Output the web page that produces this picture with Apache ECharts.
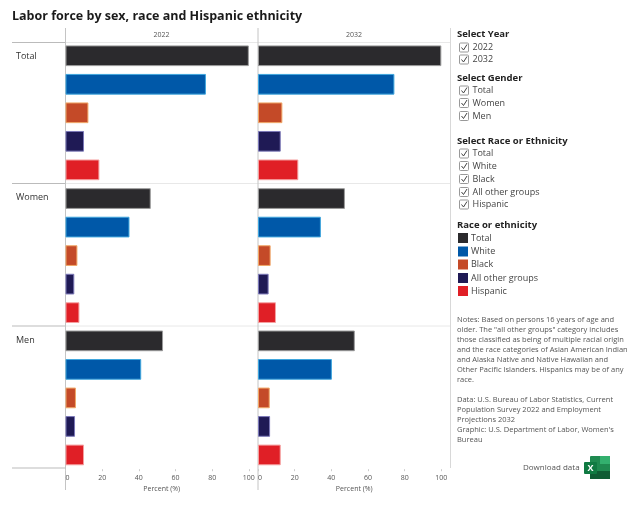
<!DOCTYPE html>
<html>
<head>
<meta charset="utf-8">
<style>html,body{margin:0;padding:0;background:#fff}#chart{width:640px;height:532px}</style>
<script src="https://cdn.jsdelivr.net/npm/echarts@6/dist/echarts.min.js"></script>
</head>
<body>
<div id="chart"></div>
<script>
// Labor force shares by year, sex and race or ethnicity
const years = ['2022', '2032'];
const sexes = ['Total', 'Women', 'Men'];
const groups = ['Total', 'White', 'Black', 'All other groups', 'Hispanic'];
const tickLabels = [0, 20, 40, 60, 80, 100];

const total2022 = [100, 76.6, 12.5, 10.1, 18.5];
const women2022 = [46.5, 34.9, 6.5, 4.8, 7.6];
const men2022 = [53.2, 41.3, 5.7, 5.2, 10.1];
const total2032 = [100, 74.4, 13.3, 12.4, 22];
const women2032 = [47.4, 34.3, 6.9, 5.8, 9.8];
const men2032 = [52.8, 40.3, 6.4, 6.6, 12.4];

const fillColors = ['#2b2a2d', '#0058a8', '#c44a28', '#1f1a55', '#e01f26'];
const edgeColors = ['#9a9a9a', '#3fa6dd', '#f0a868', '#7b78b8', '#f5a0a0'];

const noteLines = [
  'Notes: Based on persons 16 years of age and',
  'older. The "all other groups" category includes',
  'those classified as being of multiple racial origin',
  'and the race categories of Asian American Indian',
  'and Alaska Native and Native Hawaiian and',
  'Other Pacific Islanders. Hispanics may be of any',
  'race.'
];
const sourceLines = [
  'Data: U.S. Bureau of Labor Statistics, Current',
  'Population Survey 2022 and Employment',
  'Projections 2032',
  'Graphic: U.S. Department of Labor, Women\'s',
  'Bureau'
];

const valueTable = [[total2022, women2022, men2022], [total2032, women2032, men2032]];
const uiFont = '"Open Sans", "Noto Sans", sans-serif';
const panelLeft = [65.5, 258];
const panelWidth = 192.5;
const rowTop = [41.5, 184.3, 326.6];
const rowHeight = 142.6;

const grids = [], xAxes = [], yAxes = [], series = [];
years.forEach((year, c) => {
  sexes.forEach((sex, r) => {
    const idx = grids.length;
    const bottomRow = r === sexes.length - 1;
    grids.push({ left: panelLeft[c], top: rowTop[r], width: panelWidth, height: rowHeight });
    xAxes.push({
      type: 'value', gridIndex: idx, min: 0, max: 105,
      name: bottomRow ? 'Percent (%)' : '',
      nameLocation: 'middle', nameGap: 16,
      nameTextStyle: { fontFamily: uiFont, fontSize: 7, color: '#555' },
      axisLine: { show: false },
      splitLine: { show: false },
      axisTick: { show: bottomRow, length: 2, customValues: tickLabels, lineStyle: { color: '#ccc' } },
      axisLabel: { show: bottomRow, customValues: tickLabels, alignMinLabel: 'left', margin: 5, fontFamily: uiFont, fontSize: 7, color: '#555' }
    });
    yAxes.push({
      type: 'category', gridIndex: idx, data: groups, inverse: true,
      axisLine: { show: false }, axisTick: { show: false }, axisLabel: { show: false }
    });
    series.push({
      type: 'bar', name: year + ' ' + sex, xAxisIndex: idx, yAxisIndex: idx,
      barWidth: 20.7, silent: true,
      data: valueTable[c][r].map((v, i) => ({
        value: v,
        itemStyle: { color: fillColors[i], borderColor: edgeColors[i], borderWidth: 1 }
      }))
    });
  });
});

// Frame rules, headers, filter lists, legend and notes
const g = [];
const text = (x, y, s, o = {}) => g.push({
  type: 'text', x, y, silent: true,
  style: Object.assign({ text: s, fontFamily: uiFont, fontSize: 9, fill: '#444', verticalAlign: 'middle' }, o)
});
const rule = (x1, y1, x2, y2, color) => g.push({
  type: 'line', silent: true, shape: { x1, y1, x2, y2 }, style: { stroke: color, lineWidth: 1 }
});
const heading = (y, s) => text(457, y, s, { fontWeight: 'bold', fontSize: 9.5, fill: '#222' });
const checkbox = (y, s) => {
  g.push({ type: 'rect', silent: true, shape: { x: 459.5, y: y - 4.5, width: 9, height: 9, r: 1 }, style: { fill: '#fff', stroke: '#999', lineWidth: 1 } });
  g.push({ type: 'polyline', silent: true, shape: { points: [[461.5, y], [463.5, y + 2.5], [467, y - 3]] }, style: { fill: 'none', stroke: '#444', lineWidth: 1 } });
  text(472.5, y, s);
};

[42.5, 183.5, 326].forEach(y => { rule(12, y, 65, y, '#bbb'); rule(65, y, 450, y, '#e8e8e8'); });
rule(12, 468, 65, 468, '#bbb');
[65.5, 258].forEach(x => rule(x, 28, x, 490, '#c4c4c4'));
rule(450.5, 28, 450.5, 468, '#d8d8d8');

text(12, 16, 'Labor force by sex, race and Hispanic ethnicity', { fontFamily: uiFont, fontWeight: 'bold', fontSize: 12.5, fill: '#1a1a1a' });
years.forEach((y, i) => text(panelLeft[i] + 96, 35, y, { fontSize: 7, fill: '#555', align: 'center' }));
[56, 197, 340].forEach((y, i) => text(16, y, sexes[i], { fontSize: 9, fill: '#333' }));

heading(34, 'Select Year');
[47.5, 59.5].forEach((y, i) => checkbox(y, years[i]));
heading(78, 'Select Gender');
[90.5, 103, 116].forEach((y, i) => checkbox(y, sexes[i]));
heading(141, 'Select Race or Ethnicity');
[153.5, 166, 179, 192, 204.5].forEach((y, i) => checkbox(y, groups[i]));
heading(225, 'Race or ethnicity');
[238, 251.5, 264.5, 278, 291].forEach((y, i) => {
  g.push({ type: 'rect', silent: true, shape: { x: 458, y: y - 5, width: 10, height: 10 }, style: { fill: fillColors[i] } });
  text(471, y, groups[i]);
});

[320, 330, 340, 350, 360, 370, 380].forEach((y, i) => text(457, y, noteLines[i], { fontSize: 7.5, fill: '#555' }));
[400, 410, 419.5, 430, 439.5].forEach((y, i) => text(457, y, sourceLines[i], { fontSize: 7.5, fill: '#555' }));
text(523, 468, 'Download data', { fontSize: 8, fill: '#555' });

// Spreadsheet icon beside the download link
g.push({ type: 'rect', silent: true, shape: { x: 590, y: 456, width: 20, height: 23, r: 1 }, style: { fill: '#1f8a50' } });
g.push({ type: 'rect', silent: true, shape: { x: 600, y: 456, width: 10, height: 8 }, style: { fill: '#33b06e' } });
g.push({ type: 'rect', silent: true, shape: { x: 590, y: 471, width: 20, height: 8 }, style: { fill: '#0f5c34' } });
g.push({ type: 'rect', silent: true, shape: { x: 584, y: 462, width: 13, height: 12, r: 1 }, style: { fill: '#107a42' } });
text(590.5, 468.5, 'X', { fontSize: 9, fontWeight: 'bold', fill: '#fff', align: 'center' });

const chart = echarts.init(document.getElementById('chart'), null, { renderer: 'canvas' });
chart.setOption({
  animation: false,
  backgroundColor: '#fff',
  grid: grids, xAxis: xAxes, yAxis: yAxes, series, graphic: g
});
</script>
</body>
</html>
